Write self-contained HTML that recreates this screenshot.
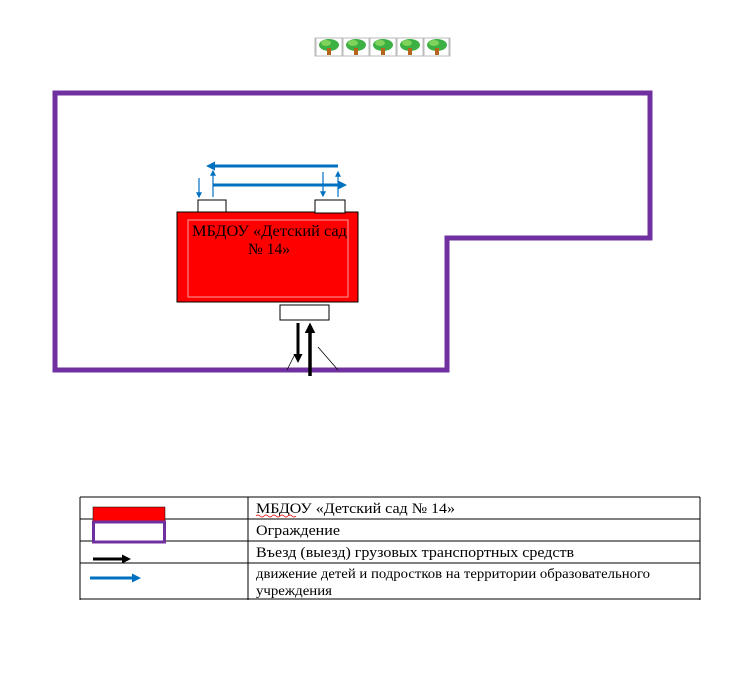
<!DOCTYPE html>
<html><head><meta charset="utf-8"><style>
body{margin:0;background:#fff;width:738px;height:697px;overflow:hidden;position:relative;font-family:"Liberation Serif",serif;}
</style></head><body>
<svg width="738" height="697" style="position:absolute;left:0;top:0">
<defs>
<marker id="bh" markerWidth="3" markerHeight="3" refX="2" refY="1.5" orient="auto" markerUnits="strokeWidth"><path d="M0,0 L3,1.5 L0,3 z" fill="#0070c0"/></marker>
<marker id="bs" markerWidth="5" markerHeight="5" refX="4" refY="2.5" orient="auto" markerUnits="strokeWidth"><path d="M0,0 L5,2.5 L0,5 z" fill="#0070c0"/></marker>
<marker id="kh" markerWidth="3" markerHeight="3" refX="2" refY="1.5" orient="auto" markerUnits="strokeWidth"><path d="M0,0 L3,1.5 L0,3 z" fill="#000"/></marker>
</defs>
<!-- trees -->
<g>
<rect x="315" y="38" width="134" height="18" fill="#fff" stroke="#bbb"/>
<g id="t"><rect x="316" y="38" width="26" height="18" fill="none" stroke="#bbb"/><ellipse cx="329" cy="45" rx="10" ry="6" fill="#3cb043"/><ellipse cx="326" cy="43" rx="5" ry="3" fill="#7fd35a"/><rect x="327" y="48" width="4" height="7" fill="#b5651d"/></g>
<use href="#t" x="27"/><use href="#t" x="54"/><use href="#t" x="81"/><use href="#t" x="108"/>
</g>
<!-- fence -->
<polygon points="55,93 650,93 650,238 447,238 447,370 55,370" fill="none" stroke="#7030a0" stroke-width="5"/>
<!-- building -->
<rect x="177" y="212" width="181" height="90" fill="#ff0000" stroke="#000" stroke-width="1"/>
<rect x="188" y="220" width="160" height="77" fill="none" stroke="#f4a0a0" stroke-width="1"/>
<rect x="198" y="200" width="28" height="12" fill="#fff" stroke="#000"/>
<rect x="315" y="200" width="30" height="13" fill="#fff" stroke="#000"/>
<rect x="280" y="305" width="49" height="15" fill="#fff" stroke="#000"/>
<text x="192" y="236" font-size="15.5" textLength="155" lengthAdjust="spacingAndGlyphs">МБДОУ «Детский сад</text>
<text x="269" y="254" font-size="15.5" text-anchor="middle">№ 14»</text>
<!-- blue arrows -->
<line x1="338" y1="166" x2="209" y2="166" stroke="#0070c0" stroke-width="3" marker-end="url(#bh)"/>
<line x1="213" y1="185" x2="344" y2="185" stroke="#0070c0" stroke-width="3" marker-end="url(#bh)"/>
<line x1="199" y1="178" x2="199" y2="197" stroke="#0070c0" stroke-width="1.2" marker-end="url(#bs)"/>
<line x1="213" y1="197" x2="213" y2="171" stroke="#0070c0" stroke-width="1.2" marker-end="url(#bs)"/>
<line x1="323" y1="172" x2="323" y2="196" stroke="#0070c0" stroke-width="1.2" marker-end="url(#bs)"/>
<line x1="338" y1="197" x2="338" y2="172" stroke="#0070c0" stroke-width="1.2" marker-end="url(#bs)"/>
<!-- black arrows -->
<line x1="298" y1="323" x2="298" y2="360" stroke="#000" stroke-width="3" marker-end="url(#kh)"/>
<line x1="310" y1="376" x2="310" y2="326" stroke="#000" stroke-width="3.5" marker-end="url(#kh)"/>
<line x1="287" y1="370" x2="295" y2="354" stroke="#000" stroke-width="0.8"/>
<line x1="318" y1="347" x2="338" y2="370" stroke="#000" stroke-width="0.8"/>
<!-- legend table -->
<g stroke="#000" stroke-width="1">
<line x1="80" y1="497" x2="700" y2="497"/>
<line x1="80" y1="519" x2="700" y2="519"/>
<line x1="80" y1="541" x2="700" y2="541"/>
<line x1="80" y1="563" x2="700" y2="563"/>
<line x1="80" y1="599" x2="700" y2="599"/>
<line x1="80" y1="497" x2="80" y2="600"/>
<line x1="700" y1="497" x2="700" y2="600"/>
<line x1="248" y1="497" x2="248" y2="600"/>
</g>
<rect x="93" y="507" width="72" height="14" fill="#ff0000" stroke="#000" stroke-width="0.5"/>
<rect x="93.5" y="522" width="71" height="20" fill="#fff" stroke="#7030a0" stroke-width="3"/>
<line x1="93" y1="559" x2="128" y2="559" stroke="#000" stroke-width="3" marker-end="url(#kh)"/>
<line x1="90" y1="578" x2="138" y2="578" stroke="#0070c0" stroke-width="3" marker-end="url(#bh)"/>
<g font-size="14.5">
<text x="256" y="513" textLength="199" lengthAdjust="spacingAndGlyphs">МБДОУ «Детский сад № 14»</text>
<text x="256" y="535" textLength="84" lengthAdjust="spacingAndGlyphs">Ограждение</text>
<text x="256" y="557" textLength="318" lengthAdjust="spacingAndGlyphs">Въезд (выезд) грузовых транспортных средств</text>
<text x="256" y="578" font-size="13.5" textLength="394" lengthAdjust="spacingAndGlyphs">движение детей и подростков на территории образовательного</text>
<text x="256" y="595" font-size="13.5" textLength="76" lengthAdjust="spacingAndGlyphs">учреждения</text>
</g>
<path d="M256,516 q2,-2 4,0 t4,0 t4,0 t4,0 t4,0 t4,0 t4,0 t4,0 t4,0 t4,0" fill="none" stroke="#e00" stroke-width="0.8"/>
</svg>
</body></html>
